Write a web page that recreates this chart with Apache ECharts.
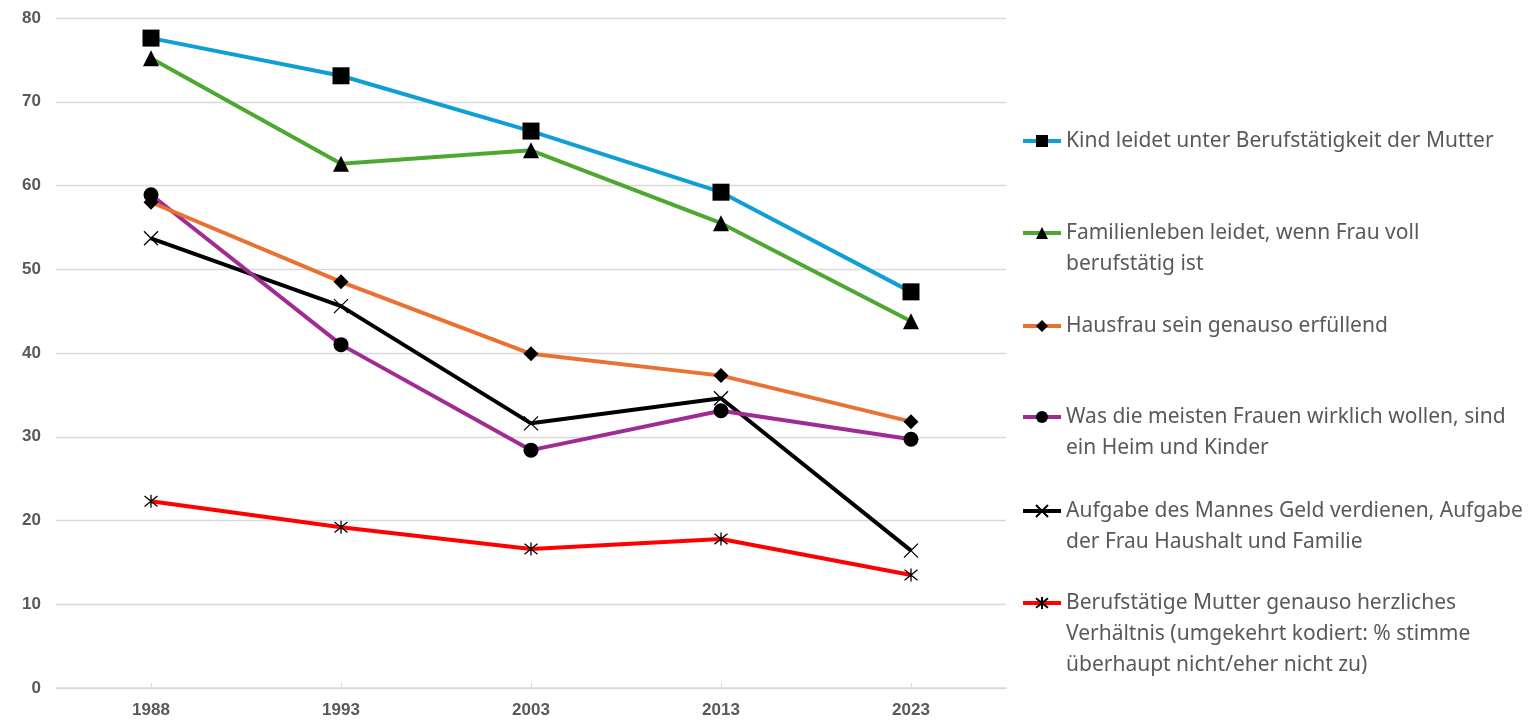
<!DOCTYPE html>
<html lang="de">
<head>
	<meta charset="UTF-8">
	<title>Einstellungen zur Rolle der Frau</title>
	<script src="https://cdn.jsdelivr.net/npm/echarts@6/dist/echarts.min.js"></script>
	<style>
		html, body { margin: 0; padding: 0; background: #fff; }
	</style>
</head>
<body>
	<div id="main" style="width: 1534px;height:725px;"></div>

<script type="text/javascript">
var years = ['1988', '1993', '2003', '2013', '2023'];

var kindLeidet = [77.6, 73.1, 66.5, 59.2, 47.3];
var familienleben = [75.2, 62.6, 64.2, 55.5, 43.8];
var hausfrau = [58.0, 48.5, 39.9, 37.3, 31.8];
var heimKinder = [58.9, 41.0, 28.4, 33.1, 29.7];
var aufgabeMann = [53.7, 45.6, 31.6, 34.6, 16.4];
var herzlich = [22.3, 19.2, 16.6, 17.8, 13.5];

var names = [
	'Kind leidet unter Berufstätigkeit der Mutter',
	'Familienleben leidet, wenn Frau voll berufstätig ist',
	'Hausfrau sein genauso erfüllend',
	'Was die meisten Frauen wirklich wollen, sind ein Heim und Kinder',
	'Aufgabe des Mannes Geld verdienen, Aufgabe der Frau Haushalt und Familie',
	'Berufstätige Mutter genauso herzliches Verhältnis (umgekehrt kodiert: % stimme überhaupt nicht/eher nicht zu)'
];
// legend lines as wrapped in the picture
var legendLines = [
	['Kind leidet unter Berufstätigkeit der Mutter'],
	['Familienleben leidet, wenn Frau voll', 'berufstätig ist'],
	['Hausfrau sein genauso erfüllend'],
	['Was die meisten Frauen wirklich wollen, sind', 'ein Heim und Kinder'],
	['Aufgabe des Mannes Geld verdienen, Aufgabe', 'der Frau Haushalt und Familie'],
	['Berufstätige Mutter genauso herzliches', 'Verhältnis (umgekehrt kodiert: % stimme', 'überhaupt nicht/eher nicht zu)']
];
var legendCenters = [139, 231, 324, 415, 509, 601];

var values = [kindLeidet, familienleben, hausfrau, heimKinder, aufgabeMann, herzlich];
var colors = ['#0F9ED5', '#4EA72E', '#E97132', '#A02B93', '#000000', '#FF0000'];
var symbols = [
	'rect', 'triangle', 'diamond', 'circle',
	'path://M0,0L10,10M10,0L0,10',
	'path://M5,0L5,10M1,1L9,9M9,1L1,9'
];
var symbolSizes = [17, 16, 15, 15, 14, 13];

var LINE_H = 31;

var mychats = echarts.init(document.getElementById('main'));

var series = values.map(function (v, i) {
	var stroke = i >= 4;
	return {
		name: names[i],
		type: 'line',
		data: v,
		symbol: symbols[i],
		symbolSize: symbolSizes[i],
		showAllSymbol: true,
		lineStyle: { color: colors[i], width: 4 },
		itemStyle: stroke
			? { color: '#000', borderColor: '#000', borderWidth: 1.3 }
			: { color: '#000', borderWidth: 0 },
		z: 10 - i
	};
});

var legends = names.map(function (n, i) {
	var lines = legendLines[i];
	var pad = [];
	for (var k = 1; k < lines.length; k++) pad.push('');
	var txt = pad.concat(lines).join('\n');
	var total = (2 * lines.length - 1) * LINE_H;
	return {
		data: [n],
		left: 1016,
		top: legendCenters[i] - total / 2 - 3,
		orient: 'vertical',
		itemWidth: 38,
		itemHeight: 15,
		selectedMode: false,
		lineStyle: { width: 4 },
		formatter: function () { return txt; },
		textStyle: {
			fontFamily: 'Noto Sans',
			fontSize: 21,
			color: '#595959',
			lineHeight: LINE_H
		}
	};
});

option = {
	animation: false,
	backgroundColor: '#fff',
	grid: { left: 56, right: 528, top: 18, bottom: 37, containLabel: false },
	xAxis: {
		type: 'category',
		data: years,
		boundaryGap: true,
		axisLine: { lineStyle: { color: '#d9d9d9', width: 1.5 } },
		axisTick: { show: true, inside: true, length: 5, alignWithLabel: true, lineStyle: { color: '#d9d9d9' } },
		axisLabel: { color: '#595959', fontWeight: 'bold', fontSize: 17, fontFamily: 'Liberation Sans', margin: 14 }
	},
	yAxis: {
		type: 'value',
		min: 0,
		max: 80,
		interval: 10,
		axisLine: { show: false },
		axisTick: { show: false },
		splitLine: { lineStyle: { color: '#d9d9d9', width: 1.3 } },
		axisLabel: { color: '#595959', fontWeight: 'bold', fontSize: 17, fontFamily: 'Liberation Sans', margin: 15 }
	},
	legend: legends,
	series: series
};
mychats.setOption(option);
</script>
</body>
</html>
